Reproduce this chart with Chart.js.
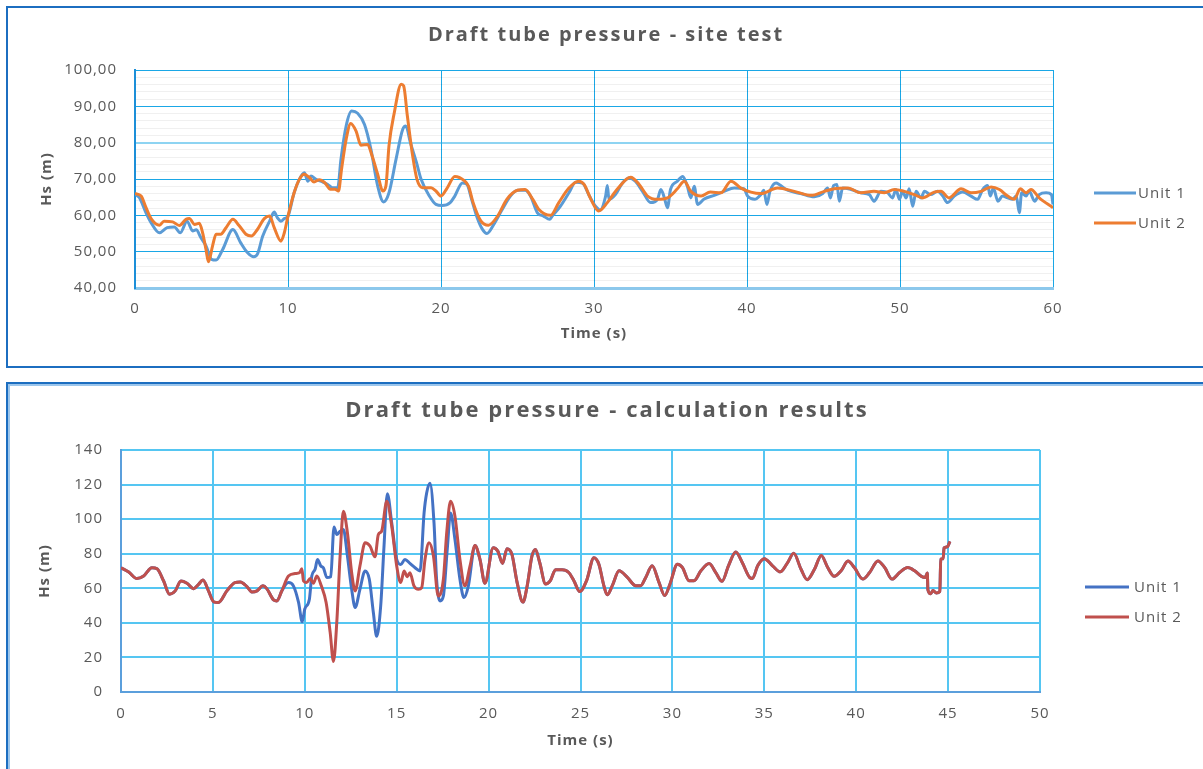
<!DOCTYPE html>
<html>
<head>
<meta charset="utf-8">
<script src="https://cdn.jsdelivr.net/npm/chart.js@4.4.1/dist/chart.umd.min.js"></script>
<style>
  html, body { margin: 0; padding: 0; background: #fff; }
  body { width: 1203px; height: 769px; position: relative; overflow: hidden; }
  .box { position: absolute; left: 6px; width: 1220px; border: 2px solid #1c6ec0; box-sizing: border-box; }
  #boxTop { top: 6px; height: 362px; }
  #boxBottom { top: 382px; height: 420px; box-shadow: inset 2px 2px 0 #9cc6ec; }
  canvas { position: absolute; left: 0; }
  #siteChart { top: 0; }
  #calcChart { top: 375px; }
</style>
</head>
<body>
<div class="box" id="boxTop"></div>
<div class="box" id="boxBottom"></div>
<canvas id="siteChart" width="1203" height="375"></canvas>
<canvas id="calcChart" width="1203" height="394"></canvas>
<script>
// Site test - Unit 1
const siteTimeU1 = [0, 0.28, 0.72, 1.05, 1.6, 2.1, 2.57, 2.96, 3.4, 3.77, 4.0, 4.3, 4.64, 5.0, 5.3, 5.73, 6.4, 6.9, 7.36, 7.76, 8.0, 8.35, 8.8, 9.1, 9.3, 9.54, 9.76, 10,
    10.4, 10.74, 11.07, 11.3, 11.5, 11.83, 12.26, 12.6, 12.9, 13.25, 13.46, 13.8, 14.16, 14.55, 15.0, 15.42, 15.86, 16.25, 16.6, 17.06, 17.5, 17.7, 18.0, 18.4, 18.7, 19.24, 19.67,
    20.07, 20.6, 20.9, 21.4, 21.7, 22.0, 22.36, 22.7, 23.0, 23.45, 24.0, 24.54, 25.0, 25.5, 25.85, 26.3, 26.7, 27.1, 27.27, 27.8, 28.36, 28.8, 29.24, 29.7,
    30.1, 30.4, 30.76, 30.87, 30.98, 31.4, 31.86, 32.3, 32.7, 33.17, 33.7, 34.15, 34.37, 34.6, 34.8, 35.0, 35.45, 35.8, 36.1, 36.33, 36.55, 36.77, 37.2, 37.86, 38.5, 39.17, 39.8,
    40.04, 40.5, 40.9, 41.1, 41.3, 41.5, 41.9, 42.1, 42.65, 43.5, 44.4, 44.95, 45.27, 45.45, 45.66, 45.88, 46.03, 46.25, 46.8, 47.45, 48.0, 48.3, 48.76, 49.2, 49.5, 49.74, 49.96,
    50.17, 50.4, 50.6, 50.83, 51.05, 51.37, 51.6, 52.0, 52.46, 52.8, 53.1, 53.55, 54.1, 54.64, 55.07, 55.4, 55.73, 55.9, 56.1, 56.4, 56.7, 57.04, 57.36, 57.6, 57.8, 57.95,
    58.24, 58.45, 58.8, 59.1, 59.55, 59.9, 60];
const siteUnit1 = [65.8, 64.9, 60.7, 58, 55.2, 56.6, 56.8, 55.2, 58.4, 55.7, 56, 53.9, 51.6, 47.9, 47.7, 50.6, 56.1, 52.5, 49.7, 48.6, 49.3, 54.3, 58.4, 60.9, 59.4, 58.4, 59.1, 59.8,
    66.2, 69.9, 71.7, 69.4, 70.8, 69.9, 69.2, 68.5, 67.6, 67.6, 75.4, 84.6, 88.7, 88.1, 85, 78.2, 68.1, 63.7, 66.2, 75.4, 83.7, 84.6, 80, 74.5, 69.9, 65.3, 63,
    62.7, 63.5, 65.3, 68.9, 68.5, 64.4, 59.4, 56.2, 55, 57.5, 61.6, 65.3, 66.9, 66.9, 65.3, 60.7, 59.8, 58.9, 59.8, 62.5, 66.2, 69.1, 68.9, 65.3,
    62.5, 61.5, 65.3, 68.2, 64.4, 65.7, 68.9, 70.3, 69.4, 66.6, 63.5, 64.4, 67.1, 64.8, 62.1, 67.1, 69.4, 70.7, 68, 64.8, 68, 63, 64.5, 65.5, 66.6, 67.5, 67.3,
    65.3, 64.4, 65.7, 66.9, 63, 66.6, 68.9, 68.5, 66.9, 66, 65.1, 66, 67.5, 64.8, 68.2, 68.5, 63.9, 67.5, 67.1, 66.2, 65.7, 63.9, 66.6, 66.2, 64.8, 67.1, 64.4,
    66.6, 64.8, 67.3, 62.5, 66.6, 64.8, 66.6, 65.7, 66.6, 65.3, 63.5, 65.3, 66.4, 65.3, 64.4, 67.1, 68.2, 65.3, 67.5, 63.9, 65.3, 64.8, 64.4, 65.3, 60.7, 66.2,
    65.3, 66.6, 63.9, 65.7, 66.2, 65.7, 63];

// Site test - Unit 2
const siteTimeU2 = [0, 0.4, 0.72, 1.05, 1.6, 1.9, 2.46, 2.9, 3.33, 3.55, 3.9, 4.2, 4.42, 4.64, 4.8, 5.07, 5.3, 5.6, 5.95, 6.4, 6.8, 7.25, 7.6, 8.0, 8.45, 8.8, 9.1, 9.54, 9.76,
    10.0, 10.4, 10.74, 11.07, 11.4, 11.7, 12.05, 12.4, 12.77, 13.07, 13.3, 13.5, 13.8, 14.1, 14.45, 14.77, 15.2, 15.5, 15.86, 16.2, 16.4, 16.6, 16.95, 17.4, 17.56, 17.8,
    18.15, 18.43, 18.8, 19.35, 19.67, 20.0, 20.4, 20.9, 21.5, 21.8, 22.1, 22.6, 23.1, 23.7, 24.3, 25, 25.5, 26.0, 26.4, 27.16, 27.7, 28.36, 29.0, 29.35, 29.8,
    30.3, 30.87, 31.5, 32.4, 32.95, 33.5, 34.15, 34.8, 35.45, 35.9, 36.33, 37.0, 37.6, 38.3, 38.95, 39.6, 40.26, 40.9, 42.0, 43.1, 44.2, 45.05, 45.7, 46.6,
    47.45, 48.3, 48.98, 49.63, 50.28, 50.94, 51.48, 52.24, 52.68, 53.2, 53.99, 54.64, 55.3, 55.95, 56.5, 57.04, 57.47, 57.86, 58.24, 58.56, 59.1, 60];
const siteUnit2 = [66, 65.3, 62.1, 59.1, 57.3, 58.4, 58.2, 57.2, 58.9, 59.1, 57.5, 57.8, 55.2, 50.6, 47.2, 51.6, 54.8, 54.8, 56.6, 58.9, 57.2, 54.8, 54.3, 56.1, 59.1, 59.8, 56.6, 52.9, 55.2,
    59.8, 66.2, 69.9, 71.3, 70.4, 69.2, 69.8, 69, 67.2, 67.2, 66.7, 72.7, 80.9, 85.3, 83.2, 79.3, 79.5, 76.3, 71.3, 66.7, 68.1, 79.1, 88.3, 96.1, 95.6, 87.4,
    76.3, 69.9, 67.6, 67.6, 66.7, 65.3, 67.5, 70.7, 69.6, 68, 63.5, 58.5, 57.3, 59.8, 64.4, 66.9, 67.1, 64.4, 61.6, 60, 63.5, 67.5, 69.4, 68.5, 64.4,
    61.2, 63.5, 67.1, 70.5, 68.5, 65.3, 64.4, 64.8, 67.3, 69.4, 66.6, 65.3, 66.4, 66.2, 69.4, 67.5, 66.4, 66, 67.5, 66.6, 65.5, 66.6, 67.3, 67.5,
    66.2, 66.6, 66.2, 67.1, 66.6, 65.7, 64.8, 66.4, 66.6, 64.8, 67.3, 66.2, 66.6, 67.8, 67.1, 65.3, 64.4, 67.3, 66.2, 67.1, 64.8, 62.1];

// Calculation results - Unit 2 (Unit 1 follows it except where the two split)
const calcTime = [0, 0.42, 0.87, 1.23, 1.68, 1.96, 2.32, 2.64, 2.95, 3.26, 3.59, 3.95, 4.22, 4.46, 4.76, 5.04, 5.3, 5.76, 6.2, 6.49, 6.85, 7.12, 7.4, 7.72, 7.93, 8.3, 8.48, 8.75,
    9.11, 9.47, 9.71, 9.84, 9.93, 10.1, 10.29, 10.47, 10.65, 10.9, 11.16, 11.38, 11.56, 11.74, 11.92, 12.1, 12.32, 12.55, 12.74, 13.0, 13.28, 13.55, 13.82, 14.0, 14.18, 14.46, 14.73,
    15.0, 15.22, 15.4, 15.58, 15.72, 15.94, 16.18, 16.36, 16.54, 16.76, 17.0, 17.26, 17.54, 17.72, 17.93, 18.17, 18.44, 18.71, 18.99, 19.26, 19.53, 19.8,
    20.25, 20.5, 20.76, 21.0, 21.27, 21.55, 21.87, 22.1, 22.36, 22.55, 22.78, 23.1, 23.36, 23.64, 24.0, 24.36, 24.64, 24.96, 25.33, 25.73, 26.0, 26.27, 26.45, 26.73,
    27.1, 27.55, 28.0, 28.27, 28.55, 28.9, 29.27, 29.58, 29.87, 30.27, 30.55, 30.9, 31.18, 31.55, 32.0, 32.36, 32.7, 33.05, 33.45, 33.8, 34.2, 34.36, 34.64,
    35.0, 35.45, 35.87, 36.27, 36.6, 37.0, 37.33, 37.73, 38.1, 38.45, 38.8, 39.18, 39.55, 39.9, 40.36, 40.73, 41.18, 41.55, 41.95, 42.36, 42.8, 43.18, 43.55, 43.76,
    43.87, 43.9, 44.05, 44.18, 44.36, 44.55, 44.6, 44.73, 44.78, 44.96, 45.1];
const calcUnit2 = [71.9, 69.4, 65.6, 67.1, 71.9, 71.3, 64.2, 56.6, 58.5, 64.2, 62.9, 59.8, 62.3, 64.8, 58.5, 52.2, 51.8, 58.5, 63.3, 63.7, 61, 57.9, 58.5, 61.4, 59.8, 53.3, 52.7, 58.5,
    67.1, 68.5, 69, 71.3, 64.2, 63.3, 65.6, 62.9, 67.1, 61.4, 51.8, 34.5, 17.6, 40.3, 78.6, 104.5, 92, 69, 58.5, 72.9, 86.3, 84.4, 78.2, 91.1, 93, 110.3, 95.9,
    72.9, 63.3, 70, 66.7, 69, 61.4, 59.4, 60.4, 76.7, 86.3, 78.6, 55.6, 65.2, 92, 110.3, 101.6, 76.7, 61.4, 72.9, 84.8, 76.7, 62.9,
    83.4, 81.5, 74.4, 82.9, 79.6, 63.4, 52, 61.5, 78.7, 82.5, 74.9, 62.5, 64.4, 70.7, 70.7, 69.1, 64.4, 58.1, 64.4, 77.7, 73.9, 61.5, 56.2, 61.5,
    70.1, 66.3, 61.5, 61.5, 66.3, 73, 63.4, 55.8, 62.5, 73.9, 72, 64.4, 64.4, 70.1, 74.3, 69.1, 64, 73, 81, 74.9, 66.3, 65.7, 73,
    77.1, 73, 69.5, 74.9, 80.2, 71, 65, 71, 79, 72, 66.9, 70.1, 75.8, 72, 65.3, 69.1, 75.8, 72, 65.3, 69.1, 72, 70.1, 66.9, 66.3,
    68.8, 59.2, 56.8, 58.7, 57.3, 58.1, 76.8, 77.1, 83.4, 84, 87.2];

// Calculation results - Unit 1 where it differs from Unit 2
const calcSplitTime = [9.11, 9.38, 9.66, 9.86, 10.0, 10.25, 10.38, 10.56, 10.69, 10.87, 11.01, 11.2, 11.41, 11.59, 11.74, 11.92, 12.1, 12.32, 12.55, 12.74, 13.0,
    13.28, 13.51, 13.73, 13.91, 14.13, 14.31, 14.49, 14.73, 15.0, 15.22, 15.45, 15.72, 16.0, 16.27, 16.49, 16.63, 16.81, 17.03, 17.17, 17.36, 17.54, 17.75, 17.93,
    18.17, 18.44, 18.66, 18.9];
const calcSplitUnit1 = [63.3, 61.4, 51.8, 40.7, 48, 53.7, 67.1, 71, 76.7, 72.9, 71.9, 66.2, 66.7, 95.5, 91.1, 93, 94, 78.6, 59.4, 48.9, 59.4,
    70, 65.2, 46, 32.2, 49.9, 84.4, 114.7, 97.8, 76.7, 73.8, 76.7, 74.4, 71.9, 70, 103.6, 115.1, 120.8, 97.8, 65.2, 52.7, 55.6, 82.5, 103.6,
    88.2, 65.2, 54.6, 61.4];

const seriesNames = ['Unit 1', 'Unit 2'];

function toPoints(xs, ys) {
    return xs.map(function (x, i) { return { x: x, y: ys[i] }; });
}

const calcU2Points = toPoints(calcTime, calcUnit2);
const calcU1Points = calcU2Points.filter(p => p.x < 9.0)
    .concat(toPoints(calcSplitTime, calcSplitUnit1))
    .concat(calcU2Points.filter(p => p.x > 19.0));

const FONT = "'Open Sans', 'DejaVu Sans', sans-serif";
const GREY = '#595959';

// title + legend drawn at fixed spots, like the spreadsheet chart
const sheetDecor = {
    id: 'sheetDecor',
    beforeDraw: function (chart) {
        chart.ctx.letterSpacing = '1px';
    },
    afterDraw: function (chart, args, opts) {
        const ctx = chart.ctx;
        ctx.save();
        ctx.fillStyle = GREY;
        ctx.letterSpacing = opts.titleSpacing;
        ctx.font = 'bold ' + opts.titleSize + 'px ' + FONT;
        ctx.textAlign = 'center';
        ctx.textBaseline = 'middle';
        ctx.fillText(opts.title, opts.titleX, opts.titleY);

        ctx.letterSpacing = '1px';
        ctx.font = '15px ' + FONT;
        ctx.textAlign = 'left';
        chart.data.datasets.forEach(function (ds, i) {
            const y = opts.rows[i];
            ctx.strokeStyle = ds.borderColor;
            ctx.lineWidth = 3;
            ctx.beginPath();
            ctx.moveTo(opts.x1, y);
            ctx.lineTo(opts.x2, y);
            ctx.stroke();
            ctx.fillText(ds.label, opts.textX, y + 1);
        });
        ctx.restore();
    }
};

function lineSet(label, points, color, order) {
    return {
        label: label,
        data: points,
        borderColor: color,
        borderWidth: 3,
        pointRadius: 0,
        cubicInterpolationMode: 'monotone',
        fill: false,
        order: order
    };
}

new Chart(document.getElementById('siteChart'), {
    type: 'line',
    data: {
        datasets: [
            lineSet(seriesNames[0], toPoints(siteTimeU1, siteUnit1), '#5b9bd5', 1),
            lineSet(seriesNames[1], toPoints(siteTimeU2, siteUnit2), '#ed7d31', 0)
        ]
    },
    options: {
        responsive: false,
        animation: false,
        layout: { padding: { left: 0, right: 150, top: 70, bottom: 0 } },
        scales: {
            x: {
                type: 'linear', min: 0, max: 60,
                ticks: { stepSize: 10, color: GREY, font: { family: FONT, size: 15 }, padding: 12, maxRotation: 0 },
                grid: { color: '#1aa7e6', lineWidth: 1, drawTicks: false },
                border: { color: '#8cc8ec', width: 3 },
                title: { display: true, text: 'Time (s)', color: GREY, font: { family: FONT, size: 15, weight: 'bold' }, padding: { top: 0, bottom: 32 } },
                afterFit: function (s) { s.height = 87; }
            },
            y: {
                min: 40, max: 100,
                ticks: {
                    stepSize: 2, autoSkip: false, color: GREY, font: { family: FONT, size: 15 }, padding: 18,
                    callback: function (v) { return v % 10 === 0 ? v.toFixed(2).replace('.', ',') : ''; }
                },
                grid: {
                    drawTicks: false,
                    color: function (c) {
                        const v = c.tick.value;
                        if (v === 80) return 'rgba(30,170,230,0.5)';
                        return v % 10 === 0 ? '#1aa7e6' : 'rgba(0,0,0,0.06)';
                    },
                    lineWidth: function (c) { return c.tick.value === 80 ? 2 : 1; }
                },
                border: { color: '#1c8fd8', width: 2 },
                title: { display: true, text: 'Hs (m)', color: GREY, font: { family: FONT, size: 15, weight: 'bold' }, padding: { top: 38, bottom: 0 } },
                afterFit: function (s) { s.width = 135; }
            }
        },
        plugins: {
            legend: { display: false },
            tooltip: { enabled: false },
            title: { display: false },
            sheetDecor: {
                title: 'Draft tube pressure - site test', titleSize: 20, titleSpacing: '2px', titleX: 606, titleY: 35,
                x1: 1094, x2: 1136, textX: 1138, rows: [193, 223]
            }
        }
    },
    plugins: [sheetDecor]
});

new Chart(document.getElementById('calcChart'), {
    type: 'line',
    data: {
        datasets: [
            lineSet(seriesNames[0], calcU1Points, '#4472c4', 1),
            lineSet(seriesNames[1], calcU2Points, '#c0504d', 0)
        ]
    },
    options: {
        responsive: false,
        animation: false,
        layout: { padding: { left: 0, right: 163, top: 75, bottom: 0 } },
        scales: {
            x: {
                type: 'linear', min: 0, max: 50,
                ticks: { stepSize: 5, color: GREY, font: { family: FONT, size: 15 }, padding: 13, maxRotation: 0 },
                grid: { color: '#55c6f2', lineWidth: 2, drawTicks: false },
                border: { color: '#5b9fdc', width: 2 },
                title: { display: true, text: 'Time (s)', color: GREY, font: { family: FONT, size: 15, weight: 'bold' }, padding: { top: 0, bottom: 19 } },
                afterFit: function (s) { s.height = 77; }
            },
            y: {
                min: 0, max: 140,
                ticks: { stepSize: 20, color: GREY, font: { family: FONT, size: 15 }, padding: 18 },
                grid: { color: '#55c6f2', lineWidth: 2, drawTicks: false },
                border: { color: '#5b9fdc', width: 2 },
                title: { display: true, text: 'Hs (m)', color: GREY, font: { family: FONT, size: 15, weight: 'bold' }, padding: { top: 36, bottom: 0 } },
                afterFit: function (s) { s.width = 121; }
            }
        },
        plugins: {
            legend: { display: false },
            tooltip: { enabled: false },
            title: { display: false },
            sheetDecor: {
                title: 'Draft tube pressure - calculation results', titleSize: 22, titleSpacing: '2.1px', titleX: 607, titleY: 36,
                x1: 1085, x2: 1129, textX: 1134, rows: [587 - 375, 617 - 375]
            }
        }
    },
    plugins: [sheetDecor]
});
</script>
</body>
</html>
